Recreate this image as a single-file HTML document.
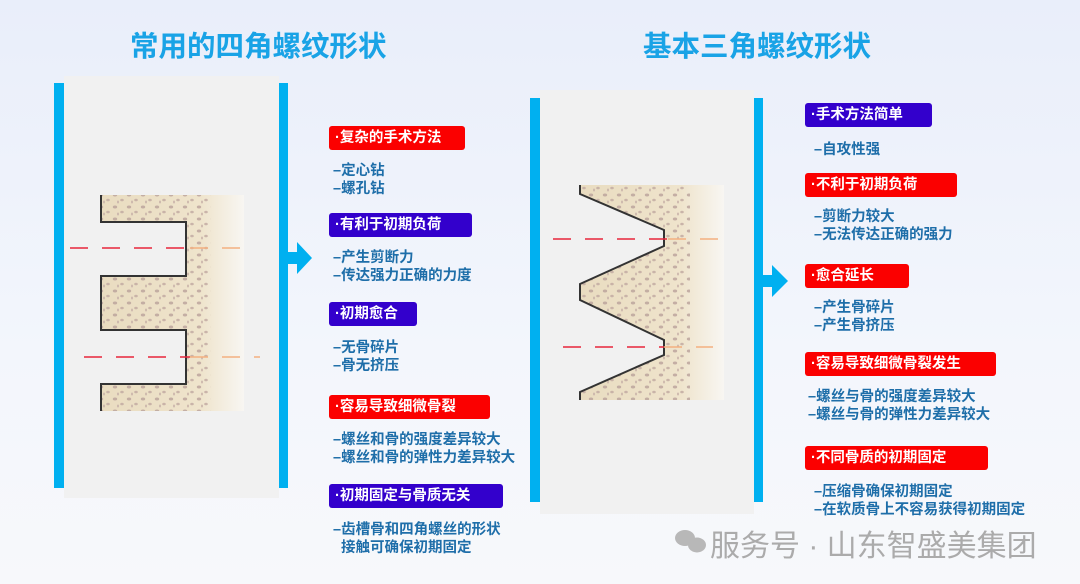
<!DOCTYPE html>
<html><head><meta charset="utf-8"><style>
body{margin:0;width:1080px;height:584px;overflow:hidden;background:linear-gradient(180deg,#e9eefa 0%,#f3f6fc 60%,#f7f8fb 100%);font-family:"Liberation Sans","Noto Sans CJK SC",sans-serif;position:relative}
.a{position:absolute}
.t{color:#19a3e6;font-size:28.5px;font-weight:bold;white-space:nowrap}
.b{position:absolute;color:#fff;font-size:14.5px;font-weight:bold;border-radius:3px;padding-left:6px;line-height:24px;box-sizing:border-box;white-space:nowrap}
.r{background:#fb0000}.p{background:#3300cc}
.x{position:absolute;color:#1e6ea9;font-size:14.5px;font-weight:bold;white-space:nowrap;line-height:18px}
</style></head><body>
<div class="a t" style="left:130px;top:24px">常用的四角螺纹形状</div>
<div class="a t" style="left:643px;top:24px">基本三角螺纹形状</div>

<svg class="a" style="left:0;top:0" width="1080" height="584">
<defs>
<linearGradient id="g" x1="0" x2="1"><stop offset="0" stop-color="#e9dcc0"/><stop offset="0.7" stop-color="#efe4cc"/><stop offset="1" stop-color="#f8f6f2"/></linearGradient>
<pattern id="d" width="14" height="12" patternUnits="userSpaceOnUse"><ellipse cx="3" cy="3" rx="2.2" ry="1.5" fill="#b9a19a"/><ellipse cx="10" cy="8" rx="1.8" ry="1.3" fill="#c0a8a0"/><ellipse cx="6" cy="10" rx="1" ry="1.5" fill="#c5aea6"/></pattern>
</defs>
<rect x="64" y="76" width="215" height="422" fill="#f1f1f1"/>
<rect x="54" y="83" width="10" height="405" fill="#00b0f0"/>
<rect x="279" y="83" width="9" height="405" fill="#00b0f0"/>
<polygon points="288,252 297,252 297,242 312,258 297,274 297,264 288,264" fill="#00b0f0"/>
<rect x="101" y="195" width="143" height="216" fill="url(#g)"/>
<rect x="101" y="195" width="110" height="216" fill="url(#d)" opacity="0.8"/>
<polygon points="101,195 101,222 186,222 186,276 101,276 101,330 186,330 186,384 101,384 101,411 70,411 70,195" fill="#f1f1f1"/>
<polyline points="101,195 101,222 186,222 186,276 101,276 101,330 186,330 186,384 101,384 101,411" fill="none" stroke="#333" stroke-width="2"/>
<line x1="70" y1="248" x2="190" y2="248" stroke="#e8253a" stroke-width="1.5" stroke-dasharray="18,14"/>
<line x1="190" y1="248" x2="244" y2="248" stroke="#f4b080" stroke-width="1.5" stroke-dasharray="18,14"/>
<line x1="84" y1="357" x2="190" y2="357" stroke="#e8253a" stroke-width="1.5" stroke-dasharray="18,14"/>
<line x1="190" y1="357" x2="260" y2="357" stroke="#f4b080" stroke-width="1.5" stroke-dasharray="18,14"/>

<rect x="540" y="90" width="214" height="424" fill="#f1f1f1"/>
<rect x="530" y="98" width="10" height="404" fill="#00b0f0"/>
<rect x="754" y="98" width="9" height="404" fill="#00b0f0"/>
<polygon points="763,275 772,275 772,265 788,281 772,297 772,287 763,287" fill="#00b0f0"/>
<rect x="580" y="185" width="144" height="215" fill="url(#g)"/>
<rect x="580" y="185" width="110" height="215" fill="url(#d)" opacity="0.8"/>
<polygon points="580,185 580,194 664,230 664,246 580,284 580,300 664,340 664,355 580,392 580,400 550,400 550,185" fill="#f1f1f1"/>
<polyline points="580,185 580,194 664,230 664,246 580,284 580,300 664,340 664,355 580,392 580,400" fill="none" stroke="#333" stroke-width="2"/>
<line x1="553" y1="239" x2="668" y2="239" stroke="#e8253a" stroke-width="1.5" stroke-dasharray="18,14"/>
<line x1="668" y1="239" x2="724" y2="239" stroke="#f4b080" stroke-width="1.5" stroke-dasharray="18,14"/>
<line x1="563" y1="347" x2="664" y2="347" stroke="#e8253a" stroke-width="1.5" stroke-dasharray="18,14"/>
<line x1="664" y1="347" x2="713" y2="347" stroke="#f4b080" stroke-width="1.5" stroke-dasharray="18,14"/>
<g fill="#b8b8b8"><ellipse cx="685" cy="538" rx="10" ry="8"/><ellipse cx="697" cy="545" rx="9" ry="7.5"/></g>
</svg>

<div class="b r" style="left:329px;top:126px;width:136px">·复杂的手术方法</div>
<div class="x" style="left:333px;top:162px">–定心钻<br>–螺孔钻</div>
<div class="b p" style="left:329px;top:213px;width:143px">·有利于初期负荷</div>
<div class="x" style="left:333px;top:249px">–产生剪断力<br>–传达强力正确的力度</div>
<div class="b p" style="left:329px;top:302px;width:88px">·初期愈合</div>
<div class="x" style="left:333px;top:339px">–无骨碎片<br>–骨无挤压</div>
<div class="b r" style="left:329px;top:395px;width:161px">·容易导致细微骨裂</div>
<div class="x" style="left:333px;top:431px">–螺丝和骨的强度差异较大<br>–螺丝和骨的弹性力差异较大</div>
<div class="b p" style="left:329px;top:484px;width:174px">·初期固定与骨质无关</div>
<div class="x" style="left:333px;top:521px">–齿槽骨和四角螺丝的形状<br>&nbsp;&nbsp;接触可确保初期固定</div>

<div class="b p" style="left:805px;top:103px;width:127px">·手术方法简单</div>
<div class="x" style="left:814px;top:141px">–自攻性强</div>
<div class="b r" style="left:805px;top:173px;width:152px">·不利于初期负荷</div>
<div class="x" style="left:814px;top:208px">–剪断力较大<br>–无法传达正确的强力</div>
<div class="b r" style="left:805px;top:264px;width:104px">·愈合延长</div>
<div class="x" style="left:814px;top:299px">–产生骨碎片<br>–产生骨挤压</div>
<div class="b r" style="left:805px;top:352px;width:191px">·容易导致细微骨裂发生</div>
<div class="x" style="left:808px;top:388px">–螺丝与骨的强度差异较大<br>–螺丝与骨的弹性力差异较大</div>
<div class="b r" style="left:805px;top:446px;width:183px">·不同骨质的初期固定</div>
<div class="x" style="left:814px;top:483px">–压缩骨确保初期固定<br>–在软质骨上不容易获得初期固定</div>

<div class="a" style="left:710px;top:521px;color:#ababab;font-size:30px;white-space:nowrap">服务号 · 山东智盛美集团</div>
</body></html>
